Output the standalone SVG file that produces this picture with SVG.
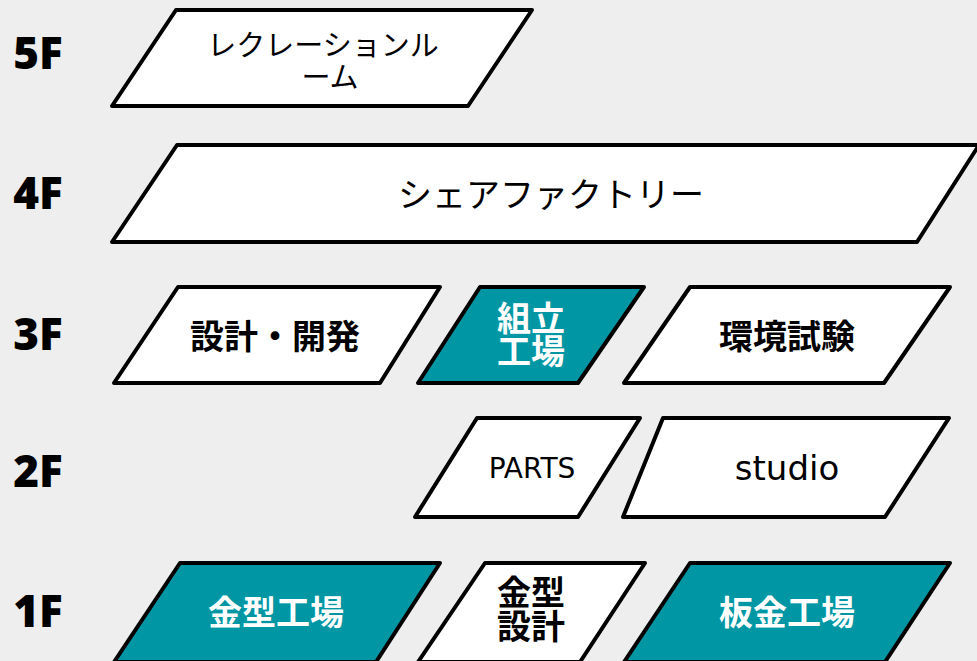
<svg xmlns="http://www.w3.org/2000/svg" width="977" height="661" viewBox="0 0 977 661">
<style>
.bg{fill:#eeeeee}
.box{fill:#ffffff;stroke:#000000;stroke-width:4;stroke-linejoin:round}
.teal{fill:#0096a4}
.t{font-family:"Noto Sans CJK JP","Noto Sans",sans-serif;text-anchor:middle;dominant-baseline:central;fill:#000}
.lat{font-family:"DejaVu Sans","Noto Sans",sans-serif}
.w{fill:#ffffff}
.b{font-weight:bold}
.floor{font-family:"Noto Sans","Noto Sans CJK JP",sans-serif;font-weight:900;font-size:44px;fill:#000;text-anchor:middle;dominant-baseline:central}
</style>
<rect class="bg" x="0" y="0" width="977" height="661"/>
<g id="floors">
<text class="floor" x="38" y="52">5F</text>
<text class="floor" x="38" y="192">4F</text>
<text class="floor" x="38" y="333">3F</text>
<text class="floor" x="38" y="470">2F</text>
<text class="floor" x="38" y="610">1F</text>
</g>
<g id="n5f-recreation">
<polygon class="box" points="176,10 532,10 468,106 112,106"/>
<text class="t" x="323" y="43" font-size="29">レクレーションル</text>
<text class="t" x="330" y="75" font-size="29">ーム</text>
</g>
<g id="n4f-sharefactory">
<polygon class="box" points="177,145 979,145 917,242 112,242"/>
<text class="t" x="551" y="192" font-size="34">シェアファクトリー</text>
</g>
<g id="n3f-design">
<polygon class="box" points="178,287 440,287 380,383 114,383"/>
<text class="t b" x="275" y="334" font-size="34">設計・開発</text>
</g>
<g id="n3f-assembly">
<polygon class="box teal" points="480,287 644,287 578,383 418,383"/>
<text class="t w b" x="531" y="316" font-size="34">組立</text>
<text class="t w b" x="531" y="349" font-size="34">工場</text>
</g>
<g id="n3f-envtest">
<polygon class="box" points="690,287 950,287 884,383 624,383"/>
<text class="t b" x="787" y="334" font-size="34">環境試験</text>
</g>
<g id="n2f-parts">
<polygon class="box" points="477,418 640,418 578,517 415,517"/>
<text class="t lat" x="532" y="468" font-size="28">PARTS</text>
</g>
<g id="n2f-studio">
<polygon class="box" points="663,418 949,418 885,517 623,517"/>
<text class="t lat" x="787" y="468" font-size="34">studio</text>
</g>
<g id="n1f-mold">
<polygon class="box teal" points="180,563 440,563 376,662 114,662"/>
<text class="t w b" x="276" y="610" font-size="34">金型工場</text>
</g>
<g id="n1f-molddesign">
<polygon class="box" points="485,563 645,563 580,662 418,662"/>
<text class="t b" x="531" y="590" font-size="34">金型</text>
<text class="t b" x="531" y="624" font-size="34">設計</text>
</g>
<g id="n1f-sheetmetal">
<polygon class="box teal" points="690,563 950,563 885,662 624,662"/>
<text class="t w b" x="787" y="610" font-size="34">板金工場</text>
</g>
<g id="connectors"/>
</svg>
